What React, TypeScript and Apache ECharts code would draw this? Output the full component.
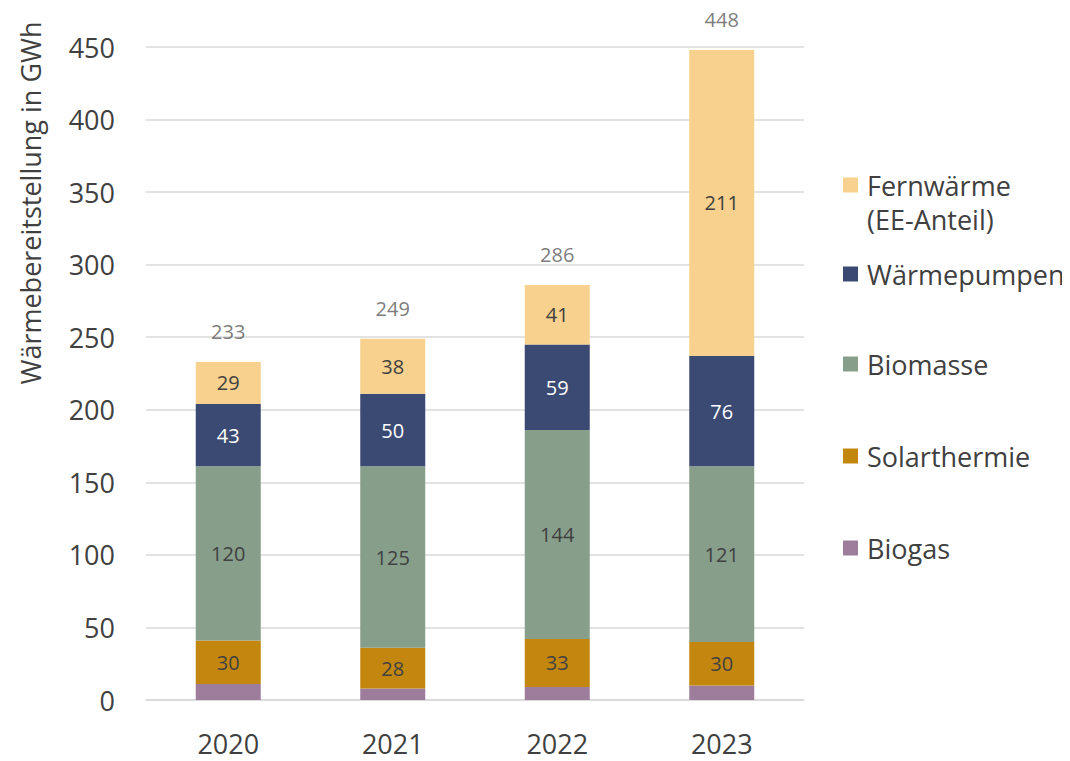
import React, { useEffect, useRef } from "react";
import * as echarts from "echarts";

const years = ["2020", "2021", "2022", "2023"];
const biogas = [11, 8, 9, 10];
const solarthermie = [30, 28, 33, 30];
const biomasse = [120, 125, 144, 121];
const waermepumpen = [43, 50, 59, 76];
const fernwaerme = [29, 38, 41, 211];
const totals = [233, 249, 286, 448];
const yTicks = [0, 50, 100, 150, 200, 250, 300, 350, 400, 450];

const FONT = "'Open Sans', 'Noto Sans', sans-serif";
const colors = {
  fern: "#F7D18D",
  wp: "#3B4A73",
  bio: "#879E8B",
  solar: "#C3870F",
  biogas: "#9E7C9C",
};

export default function App() {
  const ref = useRef<HTMLDivElement>(null);
  useEffect(() => {
    if (!ref.current) return;
    const chart = echarts.init(ref.current, undefined, { renderer: "svg" });
    const lbl = (color: string) => ({
      show: true,
      position: "inside" as const,
      color,
      fontSize: 20,
      fontFamily: FONT,
    });
    const barBase = { type: "bar" as const, stack: "total", barWidth: 65 };
    const LH = 34;
    const legendItems = [
      { name: "Fernwärme (EE-Anteil)", top: 168, label: "Fernwärme\n(EE-Anteil)", two: true },
      { name: "Wärmepumpen", top: 257, label: "Wärmepumpen", two: false },
      { name: "Biomasse", top: 347, label: "Biomasse", two: false },
      { name: "Solarthermie", top: 439, label: "Solarthermie", two: false },
      { name: "Biogas", top: 531, label: "Biogas", two: false },
    ];
    chart.setOption({
      animation: false,
      grid: { left: 146, right: 266, top: 47, bottom: 61, containLabel: false },
      legend: legendItems.map((it) => ({
        data: [it.name],
        left: 843,
        top: it.top,
        padding: 0,
        icon: it.two
          ? "path://M0,0L15,0L15,15L0,15Z M0,48.9L0.05,49L0,49Z"
          : "rect",
        itemWidth: 15,
        itemHeight: it.two ? LH + 15 : 15,
        itemGap: 0,
        formatter: () => it.label,
        textStyle: {
          fontSize: 27,
          lineHeight: LH,
          color: "#404040",
          fontFamily: FONT,
          padding: [0, 0, 0, 4],
        },
        selectedMode: false,
      })),
      graphic: [
        {
          type: "text",
          x: 30,
          y: 203,
          rotation: Math.PI / 2,
          style: {
            text: "Wärmebereitstellung in GWh",
            fontSize: 27,
            fill: "#404040",
            fontFamily: FONT,
            align: "center",
            verticalAlign: "middle",
          },
        },
      ],
      xAxis: {
        type: "category",
        data: years,
        axisTick: { show: false },
        axisLine: { lineStyle: { color: "#D9D9D9", width: 1.5 } },
        axisLabel: { fontSize: 27, color: "#404040", fontFamily: FONT, margin: 30 },
      },
      yAxis: {
        type: "value",
        min: yTicks[0],
        max: yTicks[yTicks.length - 1],
        interval: 50,
        axisLine: { show: false },
        axisTick: { show: false },
        splitLine: { lineStyle: { color: "#D9D9D9", width: 1.5 } },
        axisLabel: { fontSize: 27, color: "#404040", fontFamily: FONT, margin: 31 },
      },
      series: [
        { ...barBase, name: "Biogas", data: biogas, itemStyle: { color: colors.biogas } },
        { ...barBase, name: "Solarthermie", data: solarthermie, itemStyle: { color: colors.solar }, label: lbl("#404040") },
        { ...barBase, name: "Biomasse", data: biomasse, itemStyle: { color: colors.bio }, label: lbl("#404040") },
        { ...barBase, name: "Wärmepumpen", data: waermepumpen, itemStyle: { color: colors.wp }, label: lbl("#FFFFFF") },
        { ...barBase, name: "Fernwärme (EE-Anteil)", data: fernwaerme, itemStyle: { color: colors.fern }, label: lbl("#404040") },
        {
          type: "scatter",
          name: "Summe",
          data: totals,
          symbolSize: 0,
          silent: true,
          label: {
            show: true,
            position: "top",
            distance: 20,
            color: "#595959",
            fontSize: 20,
            fontFamily: FONT,
            formatter: (p: any) => String(p.value),
          },
        },
      ],
    });
    return () => chart.dispose();
  }, []);
  return (
    <div
      ref={ref}
      style={{ width: 1070, height: 761, marginTop: -8, marginLeft: -8 }}
    />
  );
}
